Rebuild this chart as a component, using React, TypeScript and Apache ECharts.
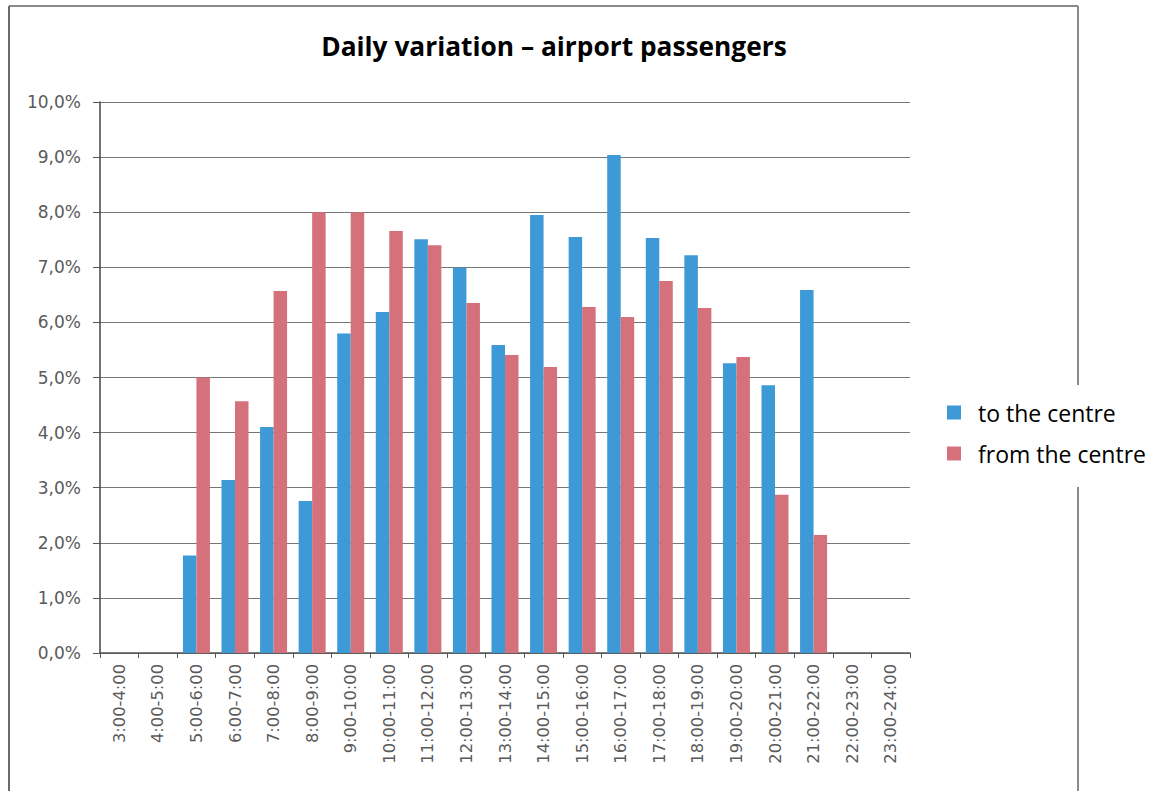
import React, { useEffect, useRef } from "react";
import * as echarts from "echarts";

const categories = [
  "3:00-4:00", "4:00-5:00", "5:00-6:00", "6:00-7:00", "7:00-8:00", "8:00-9:00",
  "9:00-10:00", "10:00-11:00", "11:00-12:00", "12:00-13:00", "13:00-14:00",
  "14:00-15:00", "15:00-16:00", "16:00-17:00", "17:00-18:00", "18:00-19:00",
  "19:00-20:00", "20:00-21:00", "21:00-22:00", "22:00-23:00", "23:00-24:00",
];
const toCentre = [0, 0, 1.77, 3.14, 4.1, 2.76, 5.8, 6.19, 7.51, 6.99, 5.59, 7.95, 7.55, 9.04, 7.53, 7.22, 5.26, 4.86, 6.59, 0, 0];
const fromCentre = [0, 0, 5.0, 4.57, 6.57, 8.0, 8.0, 7.66, 7.4, 6.35, 5.41, 5.19, 6.28, 6.1, 6.75, 6.26, 5.37, 2.87, 2.14, 0, 0];
const seriesNames = ["to the centre", "from the centre"];
const titleText = "Daily variation \u2013 airport passengers";

export default function App() {
  const ref = useRef<HTMLDivElement>(null);
  useEffect(() => {
    if (!ref.current) return;
    const chart = echarts.init(ref.current, null, { renderer: "svg" });
    chart.setOption({
      animation: false,
      backgroundColor: "#ffffff",
      title: {
        text: titleText,
        left: 549,
        textAlign: "center",
        top: 28,
        textStyle: { fontFamily: "Open Sans", fontWeight: "bold", fontSize: 26.3, color: "#000" },
      },
      legend: {
        orient: "vertical",
        left: 937,
        top: 397,
        itemWidth: 14,
        itemHeight: 14,
        itemGap: 18,
        icon: "rect",
        padding: [4, 10, 4, 10],
        backgroundColor: "#ffffff",
        textStyle: { fontFamily: "Open Sans", fontSize: 23, color: "#000", padding: [0, 0, 0, 12] },
        data: seriesNames,
      },
      graphic: [
        { type: "line", shape: { x1: 9, y1: 6, x2: 1078, y2: 6 }, style: { stroke: "#8a8a8a", lineWidth: 2 }, z: -1 },
        { type: "line", shape: { x1: 9, y1: 6, x2: 9, y2: 791 }, style: { stroke: "#6a6a6a", lineWidth: 2 }, z: -1 },
        { type: "line", shape: { x1: 1078, y1: 6, x2: 1078, y2: 385 }, style: { stroke: "#8a8a8a", lineWidth: 2 }, z: -1 },
        { type: "line", shape: { x1: 1078, y1: 487, x2: 1078, y2: 791 }, style: { stroke: "#8a8a8a", lineWidth: 2 }, z: -1 },
      ],
      grid: { left: 100, right: 252, top: 102, bottom: 138, containLabel: false },
      xAxis: {
        type: "category",
        data: categories,
        axisLine: { lineStyle: { color: "#555", width: 1.5 } },
        axisTick: { show: true, alignWithLabel: false, length: 5, lineStyle: { color: "#555" } },
        axisLabel: {
          rotate: 90,
          interval: 0,
          margin: 11,
          fontFamily: "DejaVu Sans",
          fontSize: 16.3,
          color: "#5a5a5a",
        },
      },
      yAxis: {
        type: "value",
        min: 0,
        max: 10,
        interval: 1,
        axisLine: { show: true, lineStyle: { color: "#444", width: 1.5 } },
        axisTick: { show: true, length: 7, inside: false, lineStyle: { color: "#555" } },
        splitLine: { lineStyle: { color: "#777", width: 1 } },
        axisLabel: {
          margin: 19,
          fontFamily: "DejaVu Sans",
          fontSize: 17,
          color: "#5a5a5a",
          formatter: (v: number) => v.toFixed(1).replace(".", ",") + "%",
        },
      },
      series: [
        {
          name: seriesNames[0],
          type: "bar",
          data: toCentre,
          barGap: "0%",
          barCategoryGap: "30%",
          itemStyle: { color: "#3d9ad7" },
        },
        {
          name: seriesNames[1],
          type: "bar",
          data: fromCentre,
          itemStyle: { color: "#d5717b" },
        },
      ],
    });
    return () => chart.dispose();
  }, []);
  return <div ref={ref} style={{ width: 1162, height: 791, position: "absolute", left: 0, top: 0 }} />;
}
